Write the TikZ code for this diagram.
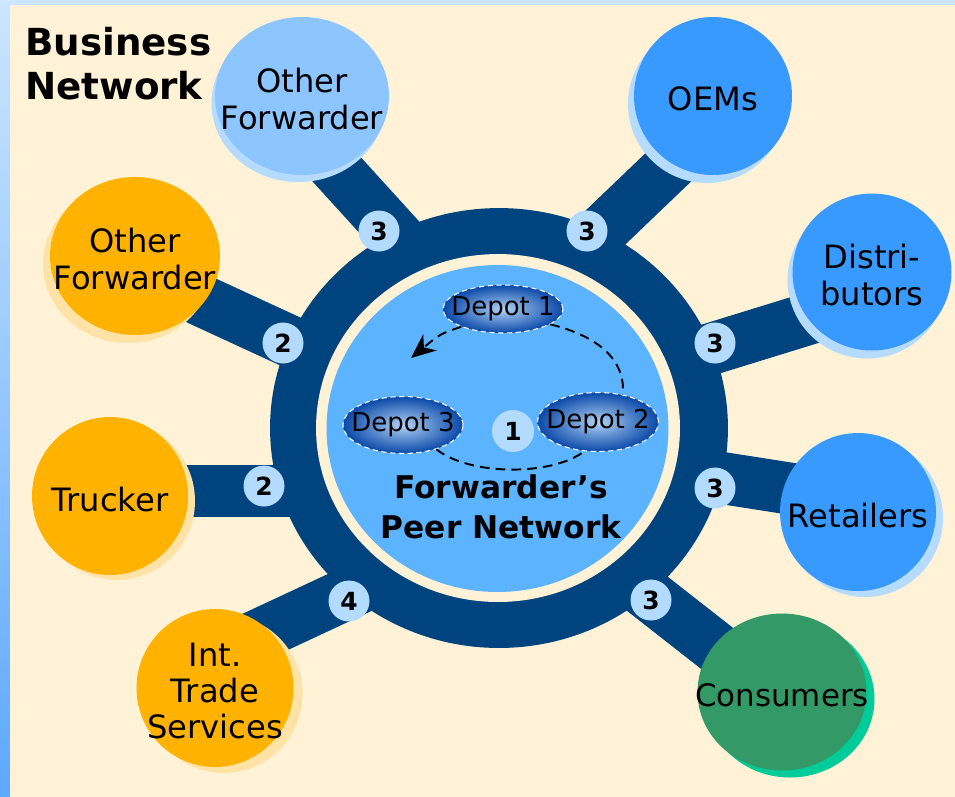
\documentclass[tikz,border=0pt]{standalone}
\usepackage{fontspec}
\setmainfont{DejaVu Sans}
\usetikzlibrary{shapes.geometric,shadows,arrows.meta}

\definecolor{bgcream}{HTML}{FFF2D6}
\definecolor{frametop}{HTML}{CCE6FF}
\definecolor{framebot}{HTML}{5CA8FF}
\definecolor{ringblue}{HTML}{00447F}
\definecolor{peerblue}{HTML}{5CB3FF}
\definecolor{paleblue}{HTML}{8CC5FF}
\definecolor{paleshade}{HTML}{B5DBFF}
\definecolor{midblue}{HTML}{3899FF}
\definecolor{hubamber}{HTML}{FFB300}
\definecolor{ambershade}{HTML}{FFE3A6}
\definecolor{hubgreen}{HTML}{339966}
\definecolor{greenshade}{HTML}{00CC99}
\definecolor{badgeblue}{HTML}{B3DBFF}
\definecolor{depotdark}{HTML}{0A48A8}
\definecolor{depotlight}{HTML}{B0D2F5}

\tikzset{
  hub/.style={ellipse, inner sep=0pt, minimum width=3.16cm, minimum height=3.16cm},
  hublabel/.style={align=center, yshift=-0.06cm, font=\fontsize{18.3}{20.6}\selectfont},
  backdrop/.style n args={3}{drop shadow={shadow xshift=#1, shadow yshift=#2, fill=#3, opacity=1}},
  spoke/.style={draw=ringblue, line width=1.04cm},
  badge/.style={circle, fill=badgeblue, inner sep=0pt, minimum size=0.82cm,
    font=\fontsize{14.2}{15}\selectfont\bfseries},
  depot/.style={ellipse, inner sep=0pt, draw=white, densely dashed, line width=0.6pt,
    inner color=depotlight, outer color=depotdark, minimum width=2.4cm},
  depotlabel/.style={font=\fontsize{14.8}{15}\selectfont},
  flow/.style={dash pattern=on 5.5pt off 3.5pt, line width=1.1pt},
}

\begin{document}
\begin{tikzpicture}[x=0.02cm, y=-0.02cm]

	% Canvas.
	\useasboundingbox (0,0) rectangle (955,796);
	\fill[top color=frametop, bottom color=framebot] (-5,-5) rectangle (960,800);
	\fill[bgcream] (10,5) rectangle (960,800);

	% Spoke end points.
	\coordinate (of1_a) at (310,140); \coordinate (of1_b) at (430,272);
	\coordinate (of2_a) at (170,286); \coordinate (of2_b) at (350,369);
	\coordinate (trk_a) at (150,491); \coordinate (trk_b) at (340,491);
	\coordinate (its_a) at (220,653); \coordinate (its_b) at (400,569);
	\coordinate (oem_a) at (700,137); \coordinate (oem_b) at (560,271);
	\coordinate (dis_a) at (850,306); \coordinate (dis_b) at (620,377);
	\coordinate (ret_a) at (850,498); \coordinate (ret_b) at (620,462);
	\coordinate (con_a) at (760,682); \coordinate (con_b) at (580,541);

	% Spokes.
	\draw[spoke] (of1_a) -- (of1_b);
	\draw[spoke] (of2_a) -- (of2_b);
	\draw[spoke] (trk_a) -- (trk_b);
	\draw[spoke] (its_a) -- (its_b);
	\draw[spoke] (oem_a) -- (oem_b);
	\draw[spoke] (dis_a) -- (dis_b);
	\draw[spoke] (ret_a) -- (ret_b);
	\draw[spoke] (con_a) -- (con_b);

	% Peer network.
	\node[ellipse, fill=ringblue, minimum width=9.16cm, minimum height=8.8cm] (ring) at (499,428) {};
	\node[ellipse, fill=bgcream, minimum width=7.28cm, minimum height=6.96cm] (gap) at (498,428) {};
	\node[ellipse, fill=peerblue, minimum width=6.84cm, minimum height=6.54cm] (peer) at (497.5,428.5) {};

	% Business partners.
	\node[hub, fill=paleblue, minimum width=3.48cm, backdrop={-0.07cm}{-0.14cm}{paleshade},
	  label={[hublabel]center:Other\\Forwarder}] (of1) at (302,96) {};
	\node[hub, fill=hubamber, minimum width=3.4cm, backdrop={-0.14cm}{-0.16cm}{ambershade},
	  label={[hublabel]center:Other\\Forwarder}] (of2) at (135,256) {};
	\node[hub, fill=hubamber, minimum width=3.12cm, backdrop={0.14cm}{-0.1cm}{ambershade},
	  label={[hublabel]center:Trucker}] (trk) at (110,496) {};
	\node[hub, fill=hubamber, minimum width=3.14cm, backdrop={0.18cm}{-0.12cm}{ambershade},
	  label={[hublabel]center:Int.\\Trade\\Services}] (its) at (215,688) {};
	\node[hub, fill=midblue, backdrop={-0.12cm}{-0.16cm}{paleshade},
	  label={[hublabel]center:OEMs}] (oem) at (713,96) {};
	\node[hub, fill=midblue, minimum width=3.18cm, minimum height=3.14cm, backdrop={-0.1cm}{-0.16cm}{paleshade},
	  label={[hublabel]center:Distri-\\butors}] (dis) at (872,272) {};
	\node[hub, fill=midblue, minimum width=3.12cm, backdrop={0.14cm}{-0.12cm}{paleshade},
	  label={[hublabel]center:Retailers}] (ret) at (858,512) {};
	\node[hub, fill=hubgreen, minimum width=3.38cm, minimum height=3.14cm, backdrop={0.16cm}{-0.14cm}{greenshade},
	  label={[hublabel, font=\fontsize{17.6}{20.6}\selectfont]center:Consumers}] (con) at (782,692) {};

	% Badges.
	\node[badge] (b_of1) at (379,231) {3};
	\node[badge] (b_of2) at (283,343) {2};
	\node[badge] (b_trk) at (264,486) {2};
	\node[badge] (b_its) at (349,601) {4};
	\node[badge] (b_oem) at (587,231) {3};
	\node[badge] (b_dis) at (715,343) {3};
	\node[badge] (b_ret) at (715,488) {3};
	\node[badge] (b_con) at (651,600) {3};
	\node[badge, minimum size=0.84cm] (b_peer) at (513,431) {1};

	% Depots.
	\node[depot, minimum height=0.96cm, label={[depotlabel]center:Depot 1}] (d1) at (503,309) {};
	\node[depot, minimum width=2.42cm, minimum height=1.18cm, label={[depotlabel]center:Depot 2}] (d2) at (598,422) {};
	\node[depot, minimum height=1.14cm, label={[depotlabel]center:Depot 3}] (d3) at (403,425) {};
	\coordinate (tip) at (411,358);

	% Arrows.
	\draw[flow] (d1.-18) .. controls (598,336) and (626,360) .. (d2.48);
	\draw[flow] (d3.-36) .. controls (470,476) and (552,476) .. (d2.-115);
	\draw[flow, -{Stealth[length=14pt, width=12pt, inset=4.5pt]}] (d1.203) .. controls (440,334) .. (tip);

	% Titles.
	\node[align=center, font=\fontsize{17.8}{22.7}\selectfont\bfseries] (peertitle) at (501,507) {Forwarder’s\\Peer Network};
	\node[anchor=north west, inner sep=0pt, align=left, font=\fontsize{21.2}{25}\selectfont\bfseries] (title) at (25,27) {Business\\Network};

\end{tikzpicture}
\end{document}
